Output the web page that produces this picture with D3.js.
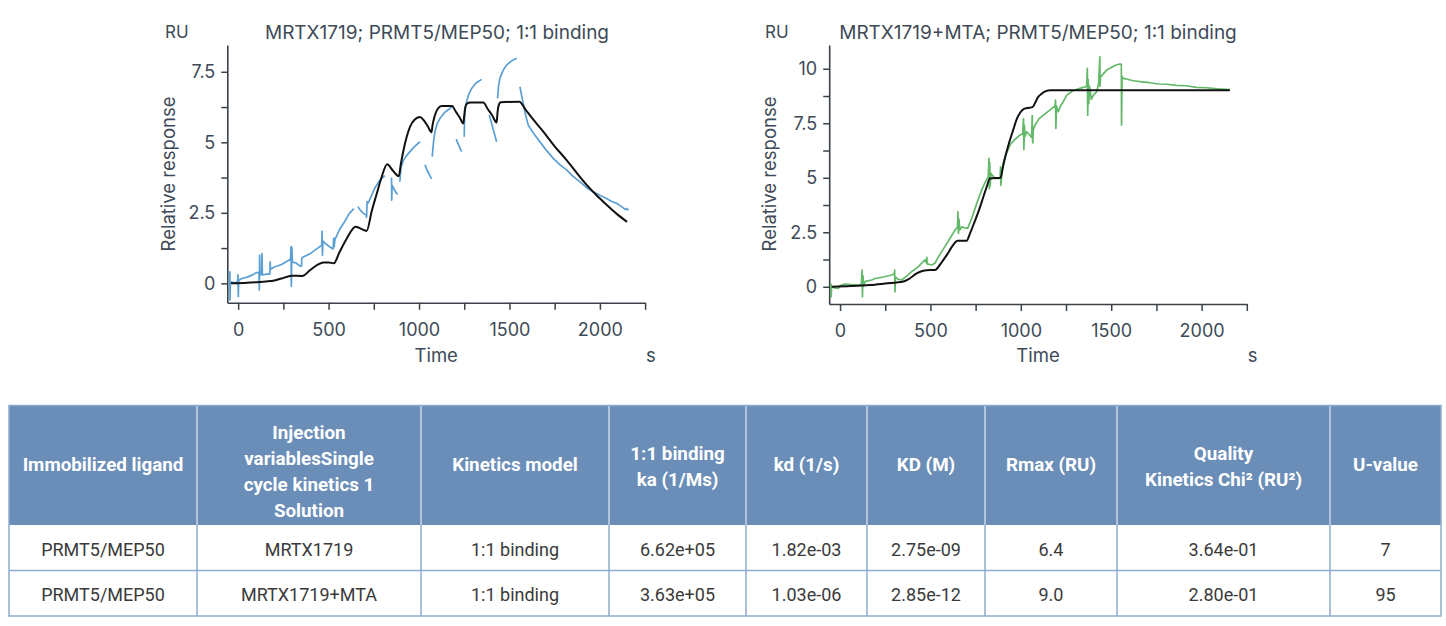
<!DOCTYPE html>
<html>
<head>
<meta charset="utf-8">
<script src="https://cdn.jsdelivr.net/npm/d3@7"></script>
<style>
  html, body { margin: 0; padding: 0; background: #fff; }
  svg { display: block; font-family: Inter, Roboto, "Noto Sans", sans-serif; }
</style>
</head>
<body>
<svg id="chart" width="1446" height="626"></svg>
<script>
// ---------------- DATA ----------------
const timeTicks = [0, 250, 500, 750, 1000, 1250, 1500, 1750, 2000, 2250];
const timeLabels = [0, 500, 1000, 1500, 2000];
const yTicksLeft = [0, 1.25, 2.5, 3.75, 5, 6.25, 7.5];
const yTicksRight = [0, 1.25, 2.5, 3.75, 5, 6.25, 7.5, 8.75, 10];
const yLabelsLeft = [0, 2.5, 5, 7.5];
const yLabelsRight = [0, 2.5, 5, 7.5, 10];

const titleLeft = "MRTX1719; PRMT5/MEP50; 1:1 binding";
const titleRight = "MRTX1719+MTA; PRMT5/MEP50; 1:1 binding";

// 1:1 fit, MRTX1719 (time s, response RU)
const fitLeft = [
  [-40,0],[50,0.02],[120,0.05],[184,0.08],[240,0.17],[295,0.27],[354,0.26],[400,0.48],[440,0.66],
  [470,0.74],[500,0.74],[529,0.71],[560,1.1],[600,1.58],[649,2.01],[680,1.93],[710,1.86],[740,2.6],
  [765,3.15],[790,3.7],[824,4.22],[855,4.0],[888,3.8],[900,4.25],[912,4.65],[930,5.15],[950,5.55],
  [975,5.8],[1005,5.9],[1030,5.75],[1050,5.55],[1069,5.36],[1075,5.62],[1082,5.82],[1092,6.04],
  [1105,6.2],[1125,6.29],[1182,6.29],[1205,6.07],[1225,5.88],[1245,5.67],[1250,5.95],[1256,6.24],
  [1265,6.37],[1285,6.41],[1355,6.41],[1380,6.18],[1405,5.95],[1429,5.7],[1434,6.05],[1440,6.3],
  [1452,6.42],[1554,6.44],[1590,6.15],[1620,5.9],[1687,5.38],[1750,4.86],[1816,4.37],[1870,3.93],
  [1927,3.49],[1980,3.13],[2038,2.78],[2090,2.48],[2150,2.18]
];

// measured sensorgram, MRTX1719 (null = gap)
const dataLeft = [
  [-48,0.0],[-46,0.41],[-45,-0.59],[-43,0.05],[-20,0.02],[-3,0.05],[-1,0.30],[1,-0.47],[3,0.1],
  [20,0.17],[50,0.22],[80,0.3],[100,0.38],[115,0.38],[117,-0.24],[119,1.0],[121,0.3],[130,0.32],
  [132,1.05],[134,0.3],[160,0.33],[175,0.33],[177,0.76],[179,0.5],[200,0.58],[240,0.67],[270,0.78],
  [290,0.85],[292,1.3],[294,-0.1],[297,1.28],[300,0.75],[320,0.72],[345,0.6],[350,0.62],[352,0.9],
  [360,0.93],[400,1.06],[440,1.25],[462,1.35],[464,1.85],[466,1.0],[469,1.5],[480,1.42],[505,1.3],
  [525,1.22],[528,1.6],[531,1.3],[535,1.55],[560,1.9],[590,2.2],[615,2.48],[640,2.65],
  null,
  [662,2.72],[675,2.6],[690,2.5],[708,2.42],[710,2.34],[713,2.9],[719,2.85],[740,3.15],[755,3.37],
  [775,3.58],[793,3.72],[811,3.82],
  null,
  [848,3.75],[849,2.95],[851,3.48],[865,3.3],[881,3.15],
  null,
  [894,3.6],[900,4.1],[913,4.35],[930,4.52],[950,4.67],[975,4.85],[1005,5.02],
  null,
  [1033,4.2],[1045,4.0],[1058,3.85],[1069,3.7],
  null,
  [1073,4.49],[1080,5.0],[1088,5.38],[1100,5.65],[1116,5.85],[1140,6.05],[1171,6.2],[1189,6.3],
  null,
  [1206,5.12],[1208,5.08],[1212,5.0],[1220,4.9],[1235,4.67],
  null,
  [1250,5.2],[1252,5.9],[1256,6.2],[1263,6.44],[1275,6.7],[1291,6.91],[1315,7.1],[1346,7.23],
  null,
  [1388,5.97],[1400,5.7],[1415,5.35],[1429,5.02],
  null,
  [1434,6.56],[1440,7.0],[1447,7.27],[1465,7.55],[1484,7.74],[1510,7.88],[1540,7.98],
  null,
  [1558,6.97],[1566,6.7],[1576,6.38],[1590,5.95],[1604,5.61],[1630,5.35],[1668,5.02],[1700,4.75],
  [1742,4.43],[1780,4.2],[1816,4.02],[1850,3.8],[1890,3.6],[1930,3.38],[1963,3.25],[2000,3.12],
  [2037,3.01],[2065,2.9],[2092,2.84],[2120,2.72],[2140,2.62],[2150,2.65],[2157,2.58]
];

// 1:1 fit, MRTX1719+MTA
const fitRight = [
  [-46,0],[60,0.03],[166,0.08],[250,0.15],[350,0.24],[380,0.35],[424,0.61],[455,0.72],[479,0.76],
  [525,0.77],[560,1.1],[590,1.45],[620,1.85],[650,2.11],[700,2.11],[719,2.45],[745,3.0],[770,3.55],
  [793,4.13],[812,4.6],[829,4.97],[888,5.0],[900,5.45],[912,5.9],[935,6.6],[958,7.2],[978,7.7],
  [996,7.98],[1015,8.15],[1035,8.2],[1065,8.24],[1080,8.45],[1095,8.7],[1115,8.85],[1135,8.96],
  [1165,9.01],[2156,9.02]
];

// measured sensorgram, MRTX1719+MTA
const dataRight = [
  [-50,0.15],[-49,-0.46],[-47,0.0],[-30,-0.05],[-9,-0.07],[0,0.05],[28,0.12],[60,0.1],[101,0.08],
  [118,0.1],[122,0.77],[124,-0.46],[127,0.5],[130,0.05],[140,0.25],[175,0.31],[193,0.38],[240,0.45],
  [286,0.54],[300,0.6],[302,0.77],[304,-0.23],[306,0.45],[320,0.35],[341,0.31],[370,0.5],[396,0.69],
  [430,0.9],[470,1.23],[478,1.1],[480,1.35],[482,1.05],[507,1.0],[525,1.08],[550,1.45],[580,1.84],
  [610,2.25],[636,2.6],[650,2.75],[652,3.44],[655,2.45],[658,3.1],[662,2.6],[673,2.75],[690,2.7],
  [706,2.68],[728,3.13],[755,3.8],[783,4.43],[800,4.75],[820,5.05],[824,5.89],[826,4.5],[828,5.7],
  [830,4.6],[835,5.2],[857,4.97],[885,4.97],[888,5.5],[890,4.65],[895,5.2],[903,5.7],[920,6.1],
  [940,6.5],[960,6.7],[995,6.96],[1010,7.0],[1015,7.7],[1017,6.3],[1020,7.4],[1023,6.9],[1032,7.11],
  [1050,6.95],[1060,6.85],[1063,7.85],[1066,6.6],[1069,7.2],[1079,7.42],[1100,7.7],[1125,7.87],
  [1160,8.1],[1189,8.3],[1192,8.56],[1194,7.26],[1197,8.3],[1207,8.03],[1220,8.3],[1235,8.49],
  [1254,8.79],[1290,9.0],[1327,9.1],[1355,9.17],[1364,9.2],[1368,10.02],[1370,7.87],[1373,9.5],
  [1376,8.4],[1380,9.2],[1390,8.6],[1401,8.79],[1420,8.95],[1430,9.3],[1437,10.55],[1438,9.2],
  [1441,9.63],[1460,9.8],[1475,9.94],[1493,10.02],[1520,10.15],[1548,10.22],[1556,10.2],[1557,7.42],
  [1560,9.65],[1567,9.56],[1590,9.52],[1622,9.45],[1670,9.4],[1714,9.36],[1760,9.3],[1807,9.29],
  [1860,9.24],[1917,9.22],[1970,9.15],[2028,9.13],[2090,9.08],[2157,9.04]
];

// results table
const tableHeaders = [
  ["Immobilized ligand"],
  ["Injection", "variablesSingle", "cycle kinetics 1", "Solution"],
  ["Kinetics model"],
  ["1:1 binding", "ka (1/Ms)"],
  ["kd (1/s)"],
  ["KD (M)"],
  ["Rmax (RU)"],
  ["Quality", "Kinetics Chi\u00B2 (RU\u00B2)"],
  ["U-value"]
];
const tableRows = [
  ["PRMT5/MEP50", "MRTX1719", "1:1 binding", "6.62e+05", "1.82e-03", "2.75e-09", "6.4", "3.64e-01", "7"],
  ["PRMT5/MEP50", "MRTX1719+MTA", "1:1 binding", "3.63e+05", "1.03e-06", "2.85e-12", "9.0", "2.80e-01", "95"]
];

// ---------------- LAYOUT ----------------
const svg = d3.select("#chart");
const TEXT = "#3e4a57";
const AXIS = "#3a4149";
const CHART_FONT = "Inter, Roboto, sans-serif";

const panels = [
  { title: titleLeft, fit: fitLeft, data: dataLeft, color: "#5b9fd3",
    x0: 227.3, x1: 645.1, yTop: 45, yBot: 302.8, yDomain: [-0.69, 8.45],
    yTicks: yTicksLeft, yLabels: yLabelsLeft, ruX: 165, titleX: 437, ylabX: 168 },
  { title: titleRight, fit: fitRight, data: dataRight, color: "#63b86a",
    x0: 829.2, x1: 1246.8, yTop: 45, yBot: 304, yDomain: [-0.79, 11.09],
    yTicks: yTicksRight, yLabels: yLabelsRight, ruX: 765, titleX: 1038, ylabX: 769 }
];

panels.forEach(p => {
  const x = d3.scaleLinear().domain([-60, 2250]).range([p.x0, p.x1]);
  const y = d3.scaleLinear().domain(p.yDomain).range([p.yBot, p.yTop]);
  const g = svg.append("g").attr("font-family", CHART_FONT);

  const xa = g.append("g").attr("transform", `translate(0,${p.yBot})`)
    .call(d3.axisBottom(x).tickValues(timeTicks).tickSize(7).tickSizeOuter(0).tickPadding(13)
      .tickFormat(d => timeLabels.includes(d) ? d3.format("d")(d) : ""));
  const ya = g.append("g").attr("transform", `translate(${p.x0},0)`)
    .call(d3.axisLeft(y).tickValues(p.yTicks).tickSize(6).tickSizeOuter(0).tickPadding(6)
      .tickFormat(d => p.yLabels.includes(d) ? d3.format("")(d) : ""));
  [xa, ya].forEach(a => {
    a.selectAll("path.domain").attr("stroke", AXIS).attr("stroke-width", 1.6);
    a.selectAll(".tick line").attr("stroke", AXIS).attr("stroke-width", 1.5);
    a.selectAll(".tick text").attr("fill", TEXT).attr("font-size", 18)
      .attr("font-family", CHART_FONT);
  });

  const line = d3.line().defined(d => d != null).x(d => x(d[0])).y(d => y(d[1]));
  g.append("path").datum(p.data).attr("d", line).attr("fill", "none")
    .attr("stroke", p.color).attr("stroke-width", 1.7).attr("stroke-linejoin", "round");
  g.append("path").datum(p.fit).attr("d", line.curve(d3.curveMonotoneX)).attr("fill", "none")
    .attr("stroke", "#111").attr("stroke-width", 2);

  g.append("text").attr("x", p.ruX).attr("y", 38).attr("fill", TEXT).attr("font-size", 17).text("RU");
  g.append("text").attr("x", p.titleX).attr("y", 38.5).attr("text-anchor", "middle")
    .attr("fill", TEXT).attr("font-size", 19).text(p.title);
  g.append("text").attr("transform", `translate(${p.ylabX},${174}) rotate(-90)`)
    .attr("text-anchor", "middle").attr("dominant-baseline", "central")
    .attr("fill", TEXT).attr("font-size", 18.5).text("Relative response");
  g.append("text").attr("x", (p.x0 + p.x1) / 2).attr("y", 362).attr("text-anchor", "middle")
    .attr("fill", TEXT).attr("font-size", 18.5).text("Time");
  g.append("text").attr("x", p.x1 + 1).attr("y", 362).attr("fill", TEXT).attr("font-size", 18.5).text("s");
});

// ---------------- TABLE ----------------
const colEdges = [9, 197, 421, 609, 746, 867, 985, 1117, 1330, 1441];
const rowEdges = [405.5, 525, 570.5, 616];
const HEAD_BG = "#6a8eb7";
const BORDER = "#8eaacb";
const tg = svg.append("g").attr("font-family", "Roboto, sans-serif");

tg.append("rect").attr("x", colEdges[0]).attr("y", rowEdges[0])
  .attr("width", colEdges[9] - colEdges[0]).attr("height", rowEdges[1] - rowEdges[0])
  .attr("fill", HEAD_BG);

tableHeaders.forEach((lines, i) => {
  const cx = (colEdges[i] + colEdges[i + 1]) / 2;
  const n = lines.length;
  const base = n === 4 ? 438.5 : (n === 2 ? 460 : 470.5);
  const step = n === 4 ? 26.1 : 26;
  lines.forEach((s, k) => {
    tg.append("text").attr("x", cx).attr("y", base + k * step).attr("text-anchor", "middle")
      .attr("fill", "#fff").attr("font-weight", "bold").attr("font-size", 18.8).text(s);
  });
});

tableRows.forEach((row, r) => {
  const yb = r === 0 ? 555.5 : 600.5;
  row.forEach((s, i) => {
    tg.append("text").attr("x", (colEdges[i] + colEdges[i + 1]) / 2).attr("y", yb)
      .attr("text-anchor", "middle").attr("fill", "#3a3a3a").attr("font-size", 18).text(s);
  });
});

colEdges.slice(1, -1).forEach(cx => {
  tg.append("line").attr("x1", cx).attr("x2", cx).attr("y1", rowEdges[0]).attr("y2", rowEdges[1])
    .attr("stroke", "#c9d7e8").attr("stroke-width", 1.5);
  tg.append("line").attr("x1", cx).attr("x2", cx).attr("y1", rowEdges[1]).attr("y2", rowEdges[3])
    .attr("stroke", BORDER).attr("stroke-width", 1.5);
});
tg.append("line").attr("x1", colEdges[0]).attr("x2", colEdges[9]).attr("y1", rowEdges[2]).attr("y2", rowEdges[2])
  .attr("stroke", BORDER).attr("stroke-width", 1.5);
tg.append("rect").attr("x", colEdges[0]).attr("y", rowEdges[0])
  .attr("width", colEdges[9] - colEdges[0]).attr("height", rowEdges[3] - rowEdges[0])
  .attr("fill", "none").attr("stroke", BORDER).attr("stroke-width", 1.5);
</script>
</body>
</html>
